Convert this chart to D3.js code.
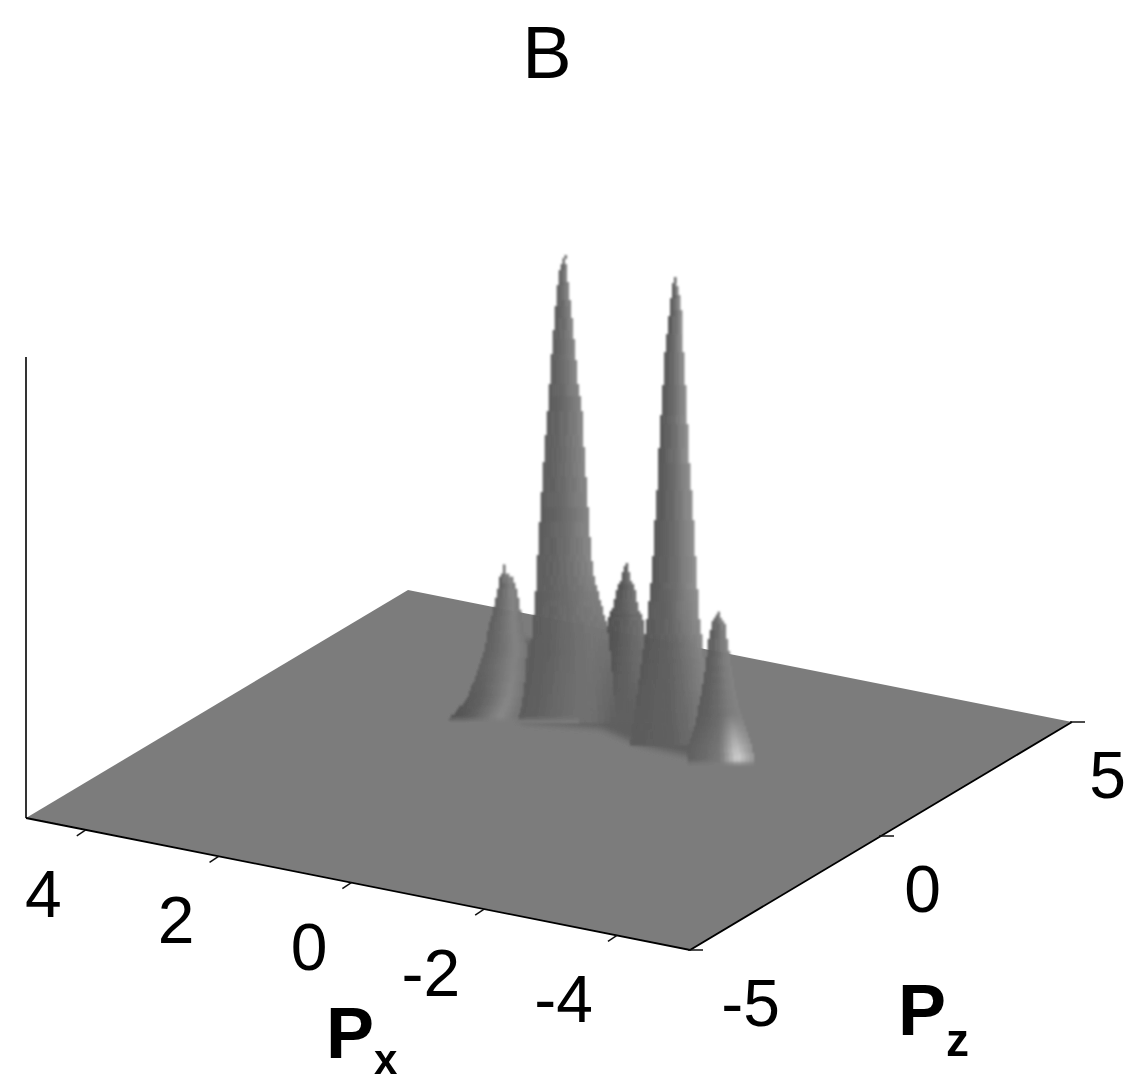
<!DOCTYPE html>
<html lang="en">

<head>
    <meta charset="UTF-8">
    <title>B</title>
    <style>
        body {
            margin: 0;
            background: #fff;
        }

        svg {
            display: block;
        }

        text {
            font-family: "Liberation Sans", Arial, sans-serif;
            fill: #000;
        }
    </style>
</head>

<body>
    <svg width="1130" height="1084"></svg>

    <script src="https://d3js.org/d3.v7.min.js"></script>
    <script>
        // axis ticks
        const pxTicks = [4, 2, 0, -2, -4];
        const pzTicks = [-5, 0, 5];
        const tickName = d => String(d);

        // peak centres on the floor, in momentum units
        const peakNames = ["p3", "p2", "p4", "p1", "p5"];
        const peakPx = [-0.06, 0.63, -1.04, 1.33, -1.91];
        const peakPz = [2.08, 1.68, 1.64, 1.28, 1.27];

        // peak profiles: height, and the outline left/right of centre (Px units)
        const p1Height = [0.341, 0.323, 0.315, 0.28, 0.243, 0.206, 0.163, 0.106, 0.054, 0.02, 0];
        const p1Left = [0, 0.015, 0.045, 0.09, 0.15, 0.21, 0.27, 0.39, 0.53, 0.72, 0.87];
        const p1Right = [0, 0.045, 0.14, 0.21, 0.256, 0.3, 0.36, 0.33, 0.286, 0.226, 0.196];

        const p2Height = [1.013, 0.974, 0.9, 0.829, 0.735, 0.677, 0.597, 0.499, 0.401, 0.323, 0.249, 0.221, 0.178, 0.106, 0.033, 0];
        const p2Left = [0, 0.09, 0.136, 0.18, 0.226, 0.256, 0.3, 0.346, 0.392, 0.422, 0.452, 0.482, 0.497, 0.557, 0.648, 0.723];
        const p2Right = [0, 0.03, 0.09, 0.136, 0.196, 0.256, 0.286, 0.331, 0.377, 0.422, 0.557, 0.617, 0.663, 0.708, 0.753, 0.798];

        const p3Height = [0.345, 0.315, 0.286, 0.249, 0.221, 0.178, 0.091, 0];
        const p3Left = [0, 0.06, 0.136, 0.196, 0.27, 0.316, 0.46, 0.66];
        const p3Right = [0, 0.06, 0.136, 0.18, 0.256, 0.286, 0.4, 0.56];

        const p4Height = [1.015, 0.972, 0.915, 0.85, 0.748, 0.646, 0.553, 0.46, 0.373, 0.315, 0.271, 0.228, 0.163, 0.076, 0];
        const p4Left = [0, 0.045, 0.09, 0.136, 0.18, 0.226, 0.256, 0.3, 0.33, 0.376, 0.406, 0.45, 0.51, 0.587, 0.66];
        const p4Right = [0, 0.09, 0.12, 0.136, 0.18, 0.21, 0.256, 0.3, 0.33, 0.36, 0.376, 0.42, 0.45, 0.48, 0.51];

        const p5Height = [0.332, 0.308, 0.271, 0.234, 0.2, 0.141, 0.082, 0.039, 0.004, 0];
        const p5Left = [0, 0.09, 0.136, 0.166, 0.196, 0.27, 0.346, 0.45, 0.467, 0.44];
        const p5Right = [0, 0.105, 0.136, 0.18, 0.21, 0.286, 0.407, 0.51, 0.557, 0.53];

        // brightness across each peak, left to right, at the tip and at the base
        const p1ShadeTop = [96, 104, 118, 132, 118];
        const p1ShadeBase = [82, 90, 112, 138, 116];
        const p2ShadeTop = [90, 96, 106, 120, 134];
        const p2ShadeBase = [92, 100, 110, 112, 94];
        const p3ShadeTop = [80, 86, 96, 106, 114];
        const p3ShadeBase = [92, 94, 96, 96, 96];
        const p4ShadeTop = [84, 92, 104, 126, 142];
        const p4ShadeBase = [92, 94, 96, 106, 124];
        const p5ShadeTop = [90, 98, 108, 124, 132];
        const p5ShadeBase = [98, 108, 124, 226, 150];

        // low ridge joining the peaks: front edge on the floor, and its height behind the peaks
        const ridgePx = [1.14, 0.12, -0.65, -1.5];
        const ridgePz = [1.39, 1.72, 1.42, 1.38];
        const ridgeTop = [0.178, 0.19, 0.228, 0.254];

        const pxDomain = [4.9, -5.1];
        const pzDomain = [-5, 5];
        const zDomain = [0, 1];

        const profiles = {
            p1: { h: p1Height, l: p1Left, r: p1Right, top: p1ShadeTop, base: p1ShadeBase, melt: 1 },
            p2: { h: p2Height, l: p2Left, r: p2Right, top: p2ShadeTop, base: p2ShadeBase, melt: 0.65 },
            p3: { h: p3Height, l: p3Left, r: p3Right, top: p3ShadeTop, base: p3ShadeBase, melt: 0 },
            p4: { h: p4Height, l: p4Left, r: p4Right, top: p4ShadeTop, base: p4ShadeBase, melt: 0 },
            p5: { h: p5Height, l: p5Left, r: p5Right, top: p5ShadeTop, base: p5ShadeBase, melt: 1 }
        };

        const svg = d3.select("svg");

        // oblique projection, floor corners are left (26,818), front (690,950), right (1072,722)
        const xFromPx = d3.scaleLinear().domain(pxDomain).range([26, 690]);
        const yFromPx = d3.scaleLinear().domain(pxDomain).range([818, 950]);
        const xFromPz = d3.scaleLinear().domain(pzDomain).range([0, 382]);
        const yFromPz = d3.scaleLinear().domain(pzDomain).range([0, -228]);
        const zHeight = d3.scaleLinear().domain(zDomain).range([0, 461]);
        const widthScale = d3.scaleLinear().domain([0, 1]).range([0, 66.4]);

        const projX = (px, pz) => xFromPx(px) + xFromPz(pz);
        const projY = (px, pz, z = 0) => yFromPx(px) + yFromPz(pz) - zHeight(z);
        const gray = v => { const c = Math.round(v); return `rgb(${c},${c},${c})`; };
        const floorGray = 124;

        const defs = svg.append("defs");
        defs.append("filter").attr("id", "soft").attr("x", "-5%").attr("y", "-5%").attr("width", "110%").attr("height", "110%")
            .append("feGaussianBlur").attr("stdDeviation", 1);
        defs.append("filter").attr("id", "softer").attr("x", "-20%").attr("y", "-20%").attr("width", "140%").attr("height", "140%")
            .append("feGaussianBlur").attr("stdDeviation", 3.5);
        defs.append("filter").attr("id", "jpeg").attr("x", "-2%").attr("y", "-2%").attr("width", "104%").attr("height", "104%")
            .append("feGaussianBlur").attr("stdDeviation", 0.5);

        const frame = svg.append("g").attr("filter", "url(#jpeg)");

        // vertical axis
        frame.append("line")
            .attr("x1", projX(pxDomain[0], pzDomain[0])).attr("x2", projX(pxDomain[0], pzDomain[0]))
            .attr("y1", projY(pxDomain[0], pzDomain[0])).attr("y2", projY(pxDomain[0], pzDomain[0], zDomain[1]))
            .attr("stroke", "#000").attr("stroke-width", 1.6);

        // floor
        const corners = [
            [pxDomain[0], pzDomain[0]], [pxDomain[1], pzDomain[0]],
            [pxDomain[1], pzDomain[1]], [pxDomain[0], pzDomain[1]]
        ];
        frame.append("path")
            .attr("d", d3.line().x(d => projX(d[0], d[1])).y(d => projY(d[0], d[1]))(corners) + "Z")
            .attr("fill", gray(floorGray));

        // front edges of the box
        frame.append("path")
            .attr("d", d3.line().x(d => projX(d[0], d[1])).y(d => projY(d[0], d[1]))(corners.slice(0, 3)))
            .attr("fill", "none").attr("stroke", "#000").attr("stroke-width", 1.8);

        // ticks
        frame.selectAll(".pxtick").data(pxTicks).enter().append("line")
            .attr("class", "pxtick")
            .attr("x1", d => projX(d, pzDomain[0])).attr("y1", d => projY(d, pzDomain[0]))
            .attr("x2", d => projX(d, pzDomain[0]) - 9).attr("y2", d => projY(d, pzDomain[0]) + 6)
            .attr("stroke", "#111").attr("stroke-width", 1.5);
        frame.selectAll(".pztick").data(pzTicks).enter().append("line")
            .attr("class", "pztick")
            .attr("x1", d => projX(pxDomain[1], d) - 2).attr("y1", d => projY(pxDomain[1], d))
            .attr("x2", d => projX(pxDomain[1], d) + 13).attr("y2", d => projY(pxDomain[1], d))
            .attr("stroke", "#111").attr("stroke-width", 1.5);

        // ridge between the peak bases
        const ridge = ridgePx.map((px, i) => [projX(px, ridgePz[i]), projY(px, ridgePz[i])])
            .concat(ridgePx.map((px, i) => [projX(px, ridgePz[i]), projY(px, ridgePz[i], ridgeTop[i])]).reverse());
        frame.append("path")
            .attr("d", d3.line()(ridge) + "Z")
            .attr("fill", "#5e5e5e")
            .attr("filter", "url(#softer)");

        // each peak is cut in cells across and up its outline, the outline stepped like the surface mesh
        const peaks = frame.append("g").attr("filter", "url(#soft)");
        const strips = 16, rowHeight = 3, meshStep = 2;
        const across = d3.range(strips);
        const stops = d3.range(5).map(i => i / 4);
        const snap = v => Math.round(v / meshStep) * meshStep;

        peakNames.forEach((name, k) => {
            const p = profiles[name];
            const cx = projX(peakPx[k], peakPz[k]);
            const cy = projY(peakPx[k], peakPz[k]);
            const topShade = d3.scaleLinear().domain(stops).range(p.top);
            const baseShade = d3.scaleLinear().domain(stops).range(p.base);
            const shadeAt = (t, h) => {
                const v = baseShade(t) + (topShade(t) - baseShade(t)) * Math.min(1, h / p.h[0] * 3);
                // the foot of the peak melts into the floor where nothing stands behind it
                if (t > p.melt) return v;
                return floorGray + (v - floorGray) * Math.min(1, h / 0.012);
            };
            const leftAt = d3.scaleLinear().domain(p.h).range(p.l);
            const rightAt = d3.scaleLinear().domain(p.h).range(p.r);
            const rows = Math.ceil(zHeight(p.h[0]) / rowHeight);
            const g = peaks.append("g").attr("class", name);
            d3.range(rows).forEach(r => {
                const ya = cy - zHeight(p.h[0]) + r * rowHeight;
                const h = zHeight.invert(cy - ya - rowHeight / 2);
                if (h < 0) return;
                const wl = snap(widthScale(leftAt(h)));
                const wr = snap(widthScale(rightAt(h)));
                const w = Math.max(wl + wr, 2);
                const xl = cx - wl;
                g.selectAll(null).data(across).enter().append("rect")
                    .attr("x", s => xl + w * s / strips)
                    .attr("y", ya)
                    .attr("width", w / strips + 0.4)
                    .attr("height", rowHeight + 0.4)
                    .attr("fill", s => gray(shadeAt((s + 0.5) / strips, h)));
            });
        });

        // tick labels
        const labelSize = 66;
        frame.selectAll(".pxlabel").data(pxTicks).enter().append("text")
            .attr("class", "pxlabel")
            .attr("x", d => projX(d, pzDomain[0]) - 24)
            .attr("y", d => projY(d, pzDomain[0]) + 87)
            .attr("text-anchor", "end")
            .attr("font-size", labelSize)
            .text(tickName);

        const pzLabelDx = [90, 60, 54];
        frame.selectAll(".pzlabel").data(pzTicks).enter().append("text")
            .attr("class", "pzlabel")
            .attr("x", (d, i) => projX(pxDomain[1], d) + pzLabelDx[i])
            .attr("y", d => projY(pxDomain[1], d) + 76)
            .attr("text-anchor", "end")
            .attr("font-size", labelSize)
            .text(tickName);

        // axis titles and panel letter
        frame.append("text").attr("x", 547).attr("y", 78).attr("text-anchor", "middle")
            .attr("font-size", 74).text("B");

        const pxTitle = frame.append("text").attr("x", 326).attr("y", 1058)
            .attr("font-size", 72).attr("font-weight", "bold");
        pxTitle.append("tspan").text("P");
        pxTitle.append("tspan").attr("dy", 16).attr("font-size", 42).text("x");

        const pzTitle = frame.append("text").attr("x", 898).attr("y", 1035)
            .attr("font-size", 72).attr("font-weight", "bold");
        pzTitle.append("tspan").text("P");
        pzTitle.append("tspan").attr("dy", 21).attr("font-size", 46).text("z");
    </script>
</body>

</html>
